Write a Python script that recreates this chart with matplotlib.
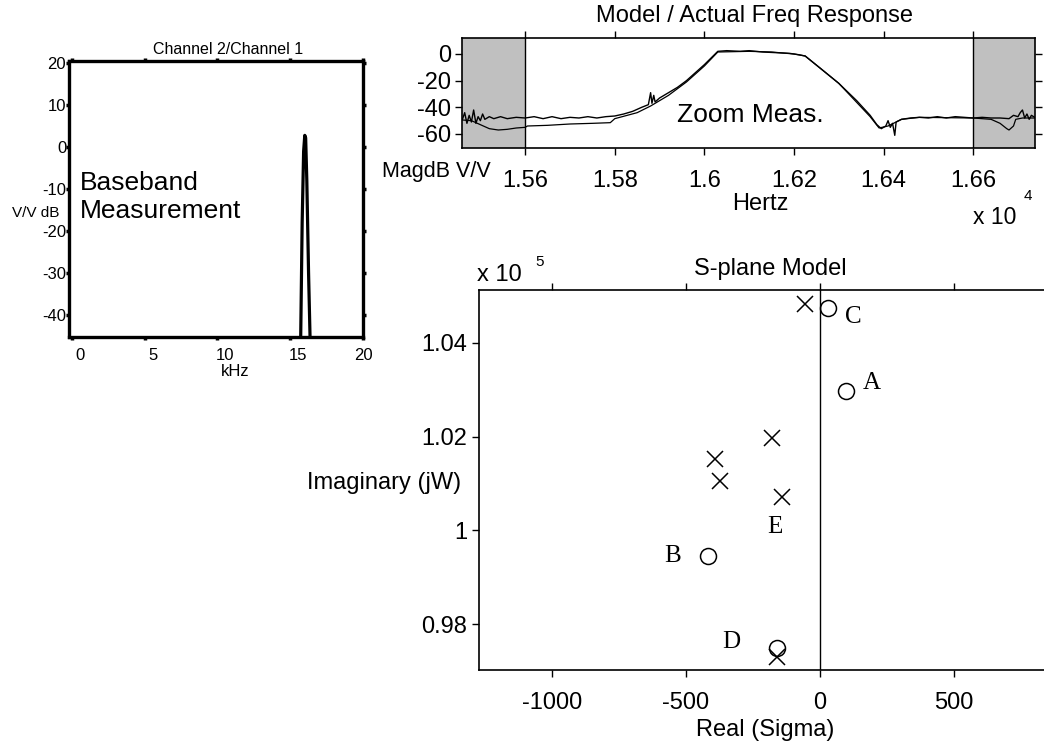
import matplotlib
matplotlib.use("Agg")
import matplotlib.pyplot as plt
import matplotlib.transforms as mtrans

plt.rcParams['font.family'] = ['Liberation Sans', 'DejaVu Sans']
plt.rcParams['axes.unicode_minus'] = False

W, H = 1044, 744

# ---------------- data ----------------
# Baseband measurement (kHz, dB)
bb_khz = [0.0, 15.5, 15.72, 15.82, 15.92, 16.0, 16.06, 16.14, 16.26, 16.36, 16.5, 20.0]
bb_db = [-70, -70, -45, -18, -1.0, 2.8, 2.2, -8, -30, -45, -70, -70]

# Zoom measurement: actual (noisy) response (Hz, dB)
act_hz = [15460, 15465, 15470, 15475, 15480, 15485, 15490, 15495, 15500, 15505, 15510,
          15520, 15530, 15545, 15560, 15580, 15600, 15620, 15640, 15660, 15680, 15700,
          15720, 15740, 15760, 15780, 15800, 15820, 15840, 15860, 15875, 15880, 15883,
          15887, 15890, 15900, 15920, 15940, 15960, 15980, 16000, 16015, 16030, 16050,
          16080, 16100, 16130, 16160, 16190, 16210, 16225, 16260, 16300, 16340, 16370,
          16385, 16395, 16405, 16410, 16415, 16420, 16425, 16428, 16440, 16460, 16480,
          16500, 16520, 16540, 16560, 16580, 16600, 16620, 16640, 16660, 16680, 16690,
          16700, 16705, 16710, 16715, 16720, 16725, 16730, 16740]
act_db = [-49, -44, -52, -46, -51, -42, -52, -47, -50, -45, -49,
          -47, -48.5, -47, -48.5, -47.5, -48, -47, -48.5, -47, -48.5, -47.5,
          -48, -47, -48, -47, -46.5, -45, -43, -40, -38, -29, -37,
          -31, -36, -33, -29, -25, -20, -14, -8, -3, 2, 2.5,
          2, 2.5, 1.5, 1, 0.5, -0.5, -1.5, -11, -22, -35, -46,
          -53, -56, -54, -50, -55, -52, -61, -51, -49, -48, -47.5,
          -48, -47, -48, -47, -47.5, -48, -47.5, -48, -48, -48.5, -46,
          -47, -44, -42, -48, -45, -49, -46, -48]

# Zoom measurement: model response (Hz, dB)
mod_hz = [15460, 15480, 15500, 15520, 15540, 15560, 15580, 15600, 15605, 15650, 15700,
          15750, 15790, 15800, 15850, 15880, 15920, 15960, 16000, 16030, 16100, 16150,
          16200, 16225, 16300, 16370, 16390, 16410, 16440, 16480, 16600, 16640, 16660,
          16675, 16680, 16690, 16695, 16710, 16740]
mod_db = [-49.5, -50, -53, -56, -57, -56.5, -55.5, -55, -54, -53.5, -52.5,
          -52, -51.5, -48.5, -44, -39, -31, -21, -9, 1.5, 2, 1.5,
          0, -1.5, -22, -47, -55.5, -54, -49, -47.5, -48, -49, -52,
          -56, -57, -54, -49, -48, -48]

# S-plane model: poles (x) and zeros (o); imaginary in units of 1e5
pole_re = [-56, -179, -392, -373, -142, -160]
pole_im = [1.0483, 1.0197, 1.0152, 1.0105, 1.0071, 0.9730]
zero_re = [30, 97, -418, -160]
zero_im = [1.0475, 1.0298, 0.9945, 0.9749]
lab_txt = ['C', 'A', 'B', 'D', 'E']
lab_re = [123, 194, -548, -332, -168]
lab_im = [1.0456, 1.0315, 0.9945, 0.9762, 1.0007]

bb_xticks = [0, 5, 10, 15, 20]
bb_yticks = [20, 10, 0, -10, -20, -30, -40]
zm_xticks = [15600, 15800, 16000, 16200, 16400, 16600]
zm_xlabels = ['1.56', '1.58', '1.6', '1.62', '1.64', '1.66']
zm_yticks = [0, -20, -40, -60]
sp_xticks = [-1000, -500, 0, 500]
sp_yticks = [0.98, 1.0, 1.02, 1.04]
sp_ylabels = ['0.98', '1', '1.02', '1.04']


def rect(x0, y0, x1, y1):
    return [x0 / W, 1 - y1 / H, (x1 - x0) / W, (y1 - y0) / H]


def ftext(x, y, s, **kw):
    return fig.text(x / W, 1 - y / H, s, **kw)


fig = plt.figure(figsize=(W / 100, H / 100), dpi=100)

# ---------------- left panel ----------------
ax1 = fig.add_axes(rect(69, 61, 363, 337))
ax1.plot(bb_khz, bb_db, color='black', lw=2.3, solid_joinstyle='round')
ax1.set_xlim(-0.2, 20)
ax1.set_ylim(-45.2, 20.5)
ax1.set_xticks(bb_xticks)
ax1.set_yticks(bb_yticks)
ax1.tick_params(direction='out', length=2, width=2.5, labelsize=12,
                top=True, right=True, labeltop=False, labelright=False)
ax1.tick_params(axis='y', pad=0)
ax1.tick_params(axis='x', pad=6)
for sp in ax1.spines.values():
    sp.set_linewidth(2.4)
for lbl in ax1.get_xticklabels()[:-1]:
    lbl.set_transform(lbl.get_transform() +
                      mtrans.ScaledTranslation(8 / 100, 0, fig.dpi_scale_trans))
ftext(228, 50, 'Channel 2/Channel 1', ha='center', va='center', fontsize=11.5)
ftext(36, 213, 'V/V dB', ha='center', va='center', fontsize=11)
ftext(235, 372, 'kHz', ha='center', va='center', fontsize=12)
ftext(80, 197, 'Baseband\nMeasurement', ha='left', va='center', fontsize=19,
      linespacing=1.25)

# ---------------- top right panel ----------------
ax2 = fig.add_axes(rect(462, 38, 1035, 148))
ax2.set_xlim(15459, 16738)
ax2.set_ylim(-70.5, 12)
ax2.axvspan(15459, 15600, color='#c0c0c0', lw=0, zorder=0)
ax2.axvspan(16600, 16738, color='#c0c0c0', lw=0, zorder=0)
ax2.axvline(15600, color='black', lw=1.0, zorder=1)
ax2.axvline(16600, color='black', lw=1.0, zorder=1)
ax2.plot(mod_hz, mod_db, color='black', lw=0.9, zorder=2)
ax2.plot(act_hz, act_db, color='black', lw=1.0, zorder=3)
ax2.set_xticks(zm_xticks)
ax2.set_xticklabels(zm_xlabels)
ax2.set_yticks(zm_yticks)
ax2.tick_params(direction='out', length=5, width=1, labelsize=17, top=True,
                right=True, labeltop=False, labelright=False, pad=3)
ax2.tick_params(axis='x', pad=11)
for sp in ax2.spines.values():
    sp.set_linewidth(1.2)
ftext(677, 115, 'Zoom Meas.', ha='left', va='center', fontsize=19)
ftext(755, 16, 'Model / Actual Freq Response', ha='center', va='center', fontsize=17)
ftext(491, 171, 'MagdB V/V', ha='right', va='center', fontsize=15.5)
ftext(760, 204, 'Hertz', ha='center', va='center', fontsize=17)
ftext(973, 218, 'x 10', ha='left', va='center', fontsize=16.5)
ftext(1024, 196, '4', ha='left', va='center', fontsize=11)

# ---------------- S-plane ----------------
ax3 = fig.add_axes(rect(479, 290, 1044, 670))
ax3.set_xlim(-1272, 836)
ax3.set_ylim(0.9702, 1.0513)
ax3.axvline(0, color='black', lw=1.0)
ax3.plot(pole_re, pole_im, ls='none', marker='x', ms=11.5, mew=1.1, color='black')
ax3.plot(zero_re, zero_im, ls='none', marker='o', ms=11.5, mew=1.1, mfc='none',
         color='black')
for t, xr, yi in zip(lab_txt, lab_re, lab_im):
    ax3.text(xr, yi, t, family=['Liberation Serif', 'DejaVu Serif'], fontsize=18,
             ha='center', va='center')
ax3.set_xticks(sp_xticks)
ax3.set_yticks(sp_yticks)
ax3.set_yticklabels(sp_ylabels)
ax3.tick_params(direction='out', length=5, width=1, labelsize=17, top=True,
                labeltop=False, pad=3.6)
ax3.tick_params(axis='x', pad=11)
ax3.spines['right'].set_visible(False)
for sp in ['left', 'top', 'bottom']:
    ax3.spines[sp].set_linewidth(1.2)
ftext(770, 269, 'S-plane Model', ha='center', va='center', fontsize=17)
ftext(765, 730, 'Real (Sigma)', ha='center', va='center', fontsize=17)
ftext(384, 483, 'Imaginary (jW)', ha='center', va='center', fontsize=17)
ftext(477, 275, 'x 10', ha='left', va='center', fontsize=17)
ftext(535, 262, '5', ha='left', va='center', fontsize=11)

fig.savefig('out.png', dpi=100)
